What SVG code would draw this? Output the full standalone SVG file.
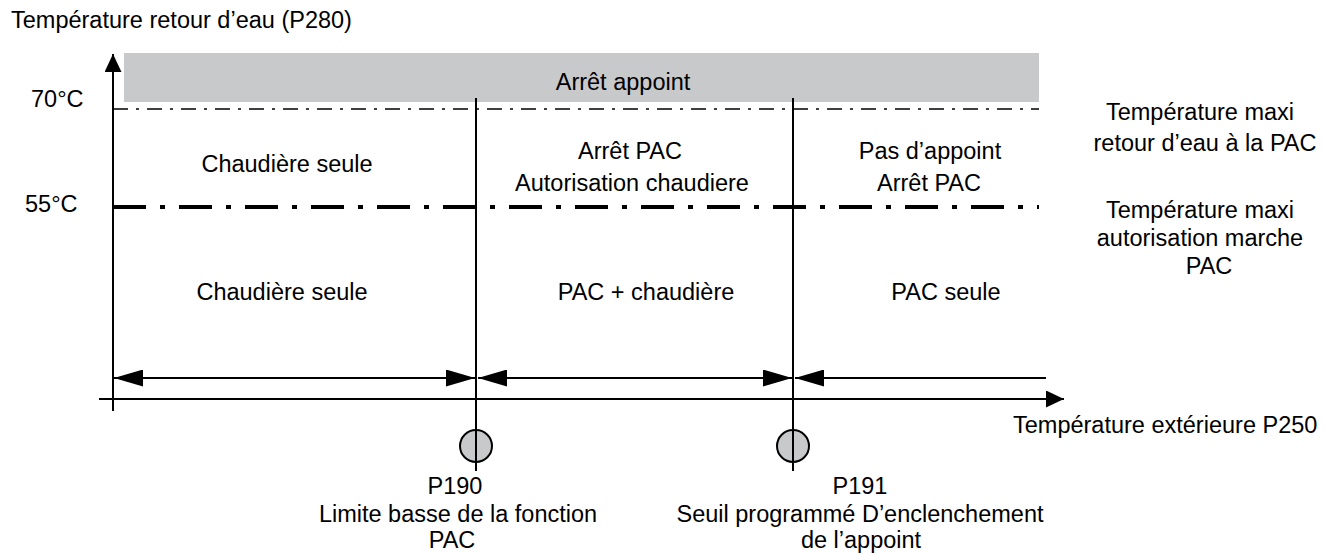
<svg xmlns="http://www.w3.org/2000/svg" width="1325" height="553" viewBox="0 0 1325 553">
<style>
text{font-family:"Liberation Sans",Arial,sans-serif;font-size:23.5px;fill:#000}
.m{text-anchor:middle}
.ax{stroke:#000;stroke-width:2;fill:none}
.dim{stroke:#000;stroke-width:2;fill:none;marker-start:url(#ah);marker-end:url(#ah)}
.thin{stroke:#000;stroke-width:1.5;stroke-dasharray:15 8 3 8;fill:none}
.thick{stroke:#000;stroke-width:4;stroke-dasharray:33 14 5 14;fill:none}
.knob{fill:#c8c9cb;stroke:#000;stroke-width:2}
</style>
<defs>
<marker id="ah" markerUnits="userSpaceOnUse" viewBox="0 0 29 17" refX="29" refY="8.5" markerWidth="29" markerHeight="17" orient="auto-start-reverse">
<path d="M0,0 L29,8.5 L0,17 Z" fill="#000"/>
</marker>
<marker id="axh" markerUnits="userSpaceOnUse" viewBox="0 0 18 17" refX="18" refY="8.5" markerWidth="18" markerHeight="17" orient="auto">
<path d="M0,0 L18,8.5 L0,17 Z" fill="#000"/>
</marker>
</defs>

<g id="zone-arret-appoint">
<rect x="124" y="53" width="915" height="49" fill="#c8c9cb"/>
<text class="m" x="623" y="90">Arrêt appoint</text>
</g>

<g id="axes">
<line class="ax" x1="113" y1="411" x2="113" y2="54" marker-end="url(#axh)"/>
<line class="ax" x1="99" y1="399" x2="1064" y2="399" marker-end="url(#axh)"/>
<text x="11" y="28">Température retour d’eau (P280)</text>
<text x="1013" y="433">Température extérieure P250</text>
</g>

<g id="line-70">
<line class="thin" x1="113" y1="109" x2="1039" y2="109"/>
<text x="31" y="107">70°C</text>
<text class="m" x="1200" y="120">Température maxi</text>
<text class="m" x="1205" y="151">retour d’eau à la PAC</text>
</g>

<g id="line-55">
<line class="thick" x1="113" y1="207" x2="1039" y2="207"/>
<text x="25" y="212">55°C</text>
<text class="m" x="1200" y="218">Température maxi</text>
<text class="m" x="1200" y="246">autorisation marche</text>
<text class="m" x="1209" y="274">PAC</text>
</g>

<g id="zone-labels">
<text class="m" x="287" y="172">Chaudière seule</text>
<text class="m" x="630" y="159">Arrêt PAC</text>
<text class="m" x="632" y="191">Autorisation chaudiere</text>
<text class="m" x="930" y="159">Pas d’appoint</text>
<text class="m" x="929" y="191">Arrêt PAC</text>
<text class="m" x="282" y="300">Chaudière seule</text>
<text class="m" x="646" y="300">PAC + chaudière</text>
<text class="m" x="946" y="300">PAC seule</text>
</g>

<g id="p190">
<line class="ax" x1="476" y1="98" x2="476" y2="471"/>
<circle class="knob" cx="476" cy="446" r="16"/>
<line class="ax" x1="476" y1="430" x2="476" y2="471"/>
<text class="m" x="455" y="494">P190</text>
<text class="m" x="458" y="522">Limite basse de la fonction</text>
<text class="m" x="452" y="548">PAC</text>
</g>

<g id="p191">
<line class="ax" x1="793" y1="98" x2="793" y2="471"/>
<circle class="knob" cx="793" cy="446" r="16"/>
<line class="ax" x1="793" y1="430" x2="793" y2="471"/>
<text class="m" x="860" y="494">P191</text>
<text class="m" x="860" y="522">Seuil programmé D’enclenchement</text>
<text class="m" x="861" y="548">de l’appoint</text>
</g>

<g id="connectors">
<line class="dim" x1="114" y1="378" x2="475" y2="378"/>
<line class="dim" x1="478" y1="378" x2="792" y2="378"/>
<line class="ax" x1="1046" y1="378" x2="795" y2="378" marker-end="url(#ah)"/>
</g>
</svg>
